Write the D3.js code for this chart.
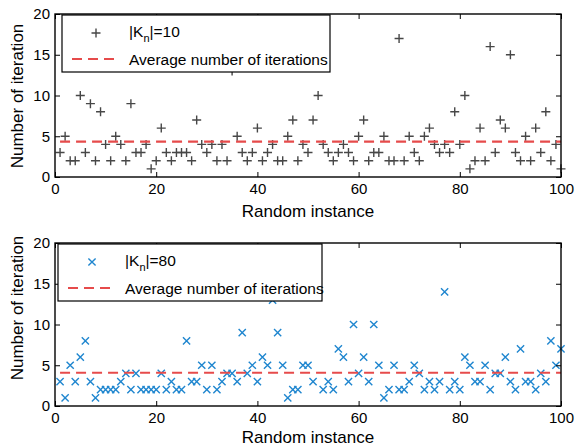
<!DOCTYPE html>
<html>
<head>
<meta charset="utf-8">
<script src="https://cdn.jsdelivr.net/npm/d3@7"></script>
<style>
  body { margin: 0; background: #fff; }
  text { font-family: "Liberation Sans", Arial, Helvetica, sans-serif; }
</style>
</head>
<body>
<div id="chart"></div>
<script>
// iterations per random instance (1..100)
const itersK10 = [3,5,2,2,10,3,9,2,8,4, 2,5,4,2,9,3,3,4,1,2, 6,3,2,3,3,3,2,7,4,3,
                  4,2,4,2,13,5,3,2,3,6, 2,3,4,2,2,5,7,2,4,3, 7,10,4,3,2,3,4,3,2,5,
                  7,2,3,3,5,2,2,17,2,5, 3,2,5,6,4,3,4,3,8,4, 10,1,2,6,2,16,3,7,6,15,
                  3,2,5,2,6,3,8,2,4,1];
const itersK80 = [3,1,5,3,6,8,3,1,2,2, 2,2,3,4,2,4,2,2,2,2, 4,2,3,2,2,8,3,3,5,2,
                  5,2,3,4,4,3,9,4,5,3, 6,5,13,9,5,1,2,2,5,5, 3,16,2,3,2,7,6,3,10,4,
                  6,3,10,5,1,2,5,2,2,3, 5,4,2,3,2,3,14,2,3,2, 6,5,3,3,5,2,4,4,6,3,
                  2,7,3,3,2,4,3,8,5,7];
const xTicks = [0,20,40,60,80,100];
const yTicks = [0,5,10,15,20];
const seriesNames = ["10", "80"];
const avgLabel = "Average number of iterations";
const xTitle = "Random instance";
const yTitle = "Number of iteration";

let width = 575, height = 447;
let svg = d3.select("#chart").append("svg")
    .attr("width", width).attr("height", height);
svg.append("rect").attr("width", width).attr("height", height).attr("fill", "#fff");

let panels = [
    { data: itersK10, name: seriesNames[0], top: 14, bottom: 177, marker: "plus", color: "#474747",
      legend: { x: 62, y: 15, w: 268, h: 57 }, yTitleY: 96, xTitleDy: 40 },
    { data: itersK80, name: seriesNames[1], top: 243, bottom: 406, marker: "times", color: "#1f86cf",
      legend: { x: 58, y: 244, w: 264, h: 57 }, yTitleY: 308, xTitleDy: 37 }
];

function markerPath(type, s){
    if(type == "plus") return "M" + (-s) + ",0H" + s + "M0," + (-s) + "V" + s;
    let t = s * 0.8;
    return "M" + (-t) + "," + (-t) + "L" + t + "," + t + "M" + (-t) + "," + t + "L" + t + "," + (-t);
}

function drawPanel(p){
    let xScale = d3.scaleLinear().domain([0, 100]).range([55, 561]);
    let yScale = d3.scaleLinear().domain([0, 20]).range([p.bottom, p.top]);
    let g = svg.append("g");
    let pts = p.data.map((v, i) => ({ x: i + 1, y: v }));
    let avg = d3.mean(p.data);

    // markers
    g.selectAll("path.mk").data(pts).enter().append("path")
        .attr("class", "mk")
        .attr("d", markerPath(p.marker, 4.5))
        .attr("transform", d => "translate(" + xScale(d.x) + "," + yScale(d.y) + ")")
        .attr("stroke", p.color).attr("stroke-width", 1.4).attr("fill", "none");

    // average line
    g.append("line")
        .attr("x1", xScale(1)).attr("x2", xScale(100))
        .attr("y1", yScale(avg)).attr("y2", yScale(avg))
        .attr("stroke", "#e64b4b").attr("stroke-width", 2.2)
        .attr("stroke-dasharray", "10,6");

    // axes, ticks inward on all four sides
    let fs = "15px";
    let axB = g.append("g").attr("transform", "translate(0," + p.bottom + ")")
        .call(d3.axisBottom(xScale).tickValues(xTicks).tickSizeInner(-5).tickSizeOuter(0).tickPadding(6));
    let axT = g.append("g").attr("transform", "translate(0," + p.top + ")")
        .call(d3.axisTop(xScale).tickValues(xTicks).tickSizeInner(-5).tickSizeOuter(0).tickFormat(""));
    let axL = g.append("g").attr("transform", "translate(55,0)")
        .call(d3.axisLeft(yScale).tickValues(yTicks).tickSizeInner(-5).tickSizeOuter(0).tickPadding(5));
    let axR = g.append("g").attr("transform", "translate(561,0)")
        .call(d3.axisRight(yScale).tickValues(yTicks).tickSizeInner(-5).tickSizeOuter(0).tickFormat(""));
    [axB, axT, axL, axR].forEach(a => {
        a.select(".domain").remove();
        a.selectAll("line").attr("stroke", "#000").attr("stroke-width", 1);
        a.selectAll("text").attr("fill", "#000").style("font-size", fs)
            .style("font-family", "'Liberation Sans', Arial, sans-serif");
    });
    g.append("rect")
        .attr("x", 55).attr("y", p.top).attr("width", 506).attr("height", p.bottom - p.top)
        .attr("fill", "none").attr("stroke", "#000").attr("stroke-width", 1.4);

    // titles
    g.append("text")
        .attr("x", 308).attr("y", p.bottom + p.xTitleDy)
        .attr("text-anchor", "middle").style("font-size", "17px")
        .text(xTitle);
    g.append("text")
        .attr("transform", "translate(23," + p.yTitleY + ") rotate(-90)")
        .attr("text-anchor", "middle").style("font-size", "17px")
        .text(yTitle);

    // legend
    let L = p.legend;
    let lg = g.append("g");
    lg.append("rect").attr("x", L.x).attr("y", L.y).attr("width", L.w).attr("height", L.h)
        .attr("fill", "#fff").attr("stroke", "#000").attr("stroke-width", 1.2);
    lg.append("path")
        .attr("d", markerPath(p.marker, 4.5))
        .attr("transform", "translate(" + (L.x + 34) + "," + (L.y + 18) + ")")
        .attr("stroke", p.color).attr("stroke-width", 1.4).attr("fill", "none");
    let t1 = lg.append("text").attr("x", L.x + 67).attr("y", L.y + 22).style("font-size", "15.5px");
    t1.append("tspan").text("|K");
    t1.append("tspan").attr("dy", 5).style("font-size", "11px").text("n");
    t1.append("tspan").attr("dy", -5).text("|=" + p.name);
    lg.append("line")
        .attr("x1", L.x + 10).attr("x2", L.x + 58)
        .attr("y1", L.y + 44).attr("y2", L.y + 44)
        .attr("stroke", "#e64b4b").attr("stroke-width", 2.2)
        .attr("stroke-dasharray", "10,6");
    lg.append("text").attr("x", L.x + 67).attr("y", L.y + 50)
        .style("font-size", "15.5px").text(avgLabel);
}

panels.forEach(drawPanel);
</script>
</body>
</html>
